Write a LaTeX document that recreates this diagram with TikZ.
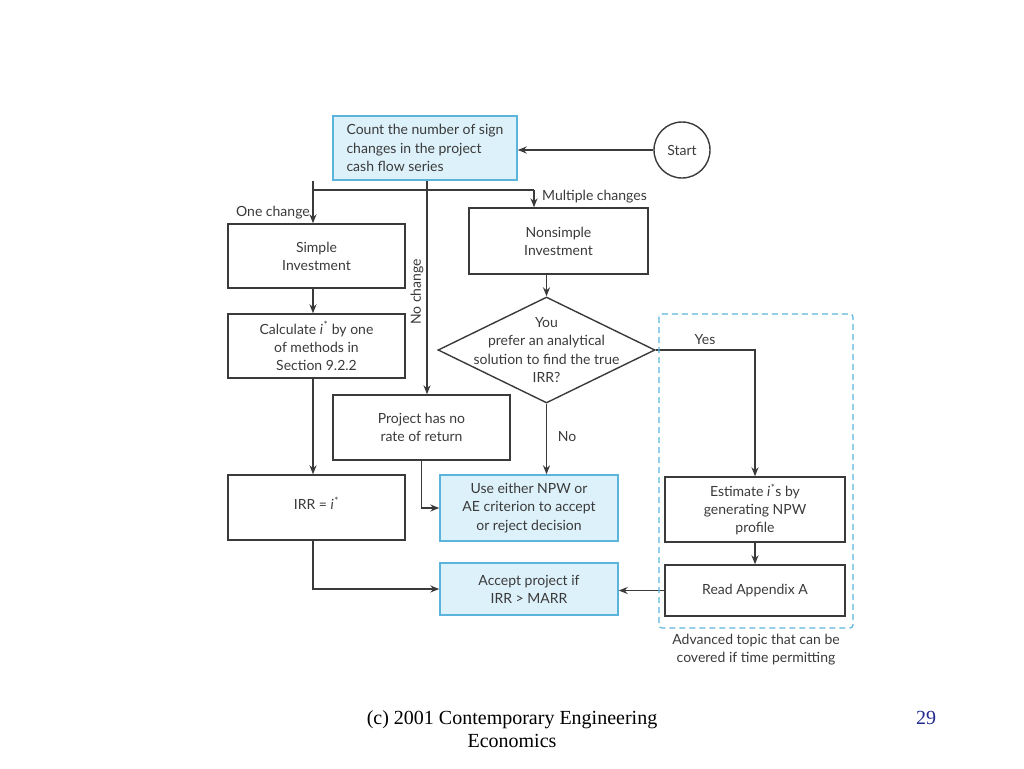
\documentclass[tikz,border=0pt]{standalone}
\usepackage{fontspec}
\setmainfont{Lato}
\newfontfamily\footfont{Liberation Serif}
\usetikzlibrary{arrows.meta,shapes.geometric}

\definecolor{boxblue}{HTML}{5AB4DC}
\definecolor{boxfill}{HTML}{DDF1FA}
\definecolor{linegray}{HTML}{3A3A3A}
\definecolor{pagenum}{HTML}{1F2A8C}

\newcommand{\istar}{\textit{i}\textsuperscript{\kern0.5pt*}}

\tikzset{
  flow/.style={draw=linegray, line width=1.4pt},
  arr/.style={flow, -{Stealth[length=9pt,width=7pt]}},
  plainbox/.style={draw=linegray, line width=1.4pt, align=center, inner sep=0pt,
    font=\fontsize{14}{18.2}\selectfont, text=linegray},
  bluebox/.style={plainbox, draw=boxblue, fill=boxfill},
  decision/.style={draw=linegray, line width=1.4pt, shape=diamond, inner sep=0pt,
    minimum width=217pt, minimum height=106pt},
  tag/.style={font=\fontsize{14}{18.2}\selectfont, inner sep=1pt, text=linegray}
}

\begin{document}
\begin{tikzpicture}[x=1pt,y=-1pt]
\useasboundingbox (0,0) rectangle (1024,768);

% Define the split points below the first box
\coordinate (bl) at (313,190);
\coordinate (br) at (534,190);
\coordinate (nc) at (427,190);

% Draw the boxes
\node[bluebox, align=left, minimum width=184pt, minimum height=64pt] (count) at (425,148)
  {Count the number of sign\\changes in the project\\cash flow series};
\node[circle, draw=linegray, line width=1.4pt, minimum size=56pt, inner sep=0pt,
  font=\fontsize{14}{18.2}\selectfont, text=linegray] (start) at (682,150) {Start};
\node[plainbox, minimum width=177pt, minimum height=64pt] (simple) at (316.5,256)
  {Simple\\Investment};
\node[plainbox, minimum width=177pt, minimum height=64pt] (calc) at (316.5,346)
  {Calculate \istar{} by one\\of methods in\\Section 9.2.2};
\node[plainbox, minimum width=177pt, minimum height=65pt] (irr) at (316.5,507.5)
  {IRR = \istar\rule[-8pt]{0pt}{8pt}};
\node[plainbox, minimum width=179pt, minimum height=66pt] (nonsimple) at (558.5,241)
  {Nonsimple\\Investment};
\node[decision] (q) at (546.5,350) {};
\node[tag, align=center] (qtext) at (q) {You\\prefer an analytical\\solution to find the true\\IRR?};
\node[plainbox, minimum width=177pt, minimum height=65pt] (project) at (421.5,427.5)
  {Project has no\\rate of return};
\node[bluebox, minimum width=178pt, minimum height=66pt] (use) at (529,508)
  {Use either NPW or\\AE criterion to accept\\or reject decision};
\node[bluebox, minimum width=178pt, minimum height=52pt] (accept) at (529,589)
  {Accept project if\\IRR > MARR};
\node[plainbox, minimum width=180pt, minimum height=65pt] (est) at (755,509.5)
  {Estimate \istar s by\\generating NPW\\profile};
\node[plainbox, minimum width=180pt, minimum height=51pt] (read) at (755,590.5)
  {Read Appendix A};

% Draw the connectors
\draw[arr] (start) -- (start -| count.east);
\draw[flow] (count.south -| bl) -- (bl) -- (br);
\draw[flow] (count.south -| nc) -- (nc);
\draw[arr] (bl) -- (simple.north -| bl);
\draw[arr] (br) -- (nonsimple.north -| br);
\draw[arr] (nc) -- (project.north -| nc);
\draw[arr] (simple.south -| bl) -- (calc.north -| bl);
\draw[arr] (calc.south -| bl) -- (irr.north -| bl);
\draw[arr] (irr.south -| bl) |- (accept.west);
\draw[arr] (nonsimple.south -| q) -- (q.north);
\draw[arr] (q.east) -| (est.north);
\draw[arr] (q.south) -- (use.north -| q);
\draw[arr] (project.south) |- (use.west);
\draw[arr] (est) -- (read);
\draw[arr] (read.west) -- (read.west -| accept.east);

% Labels on the connectors
\node[tag, anchor=east] (one) at (311,213) {One change};
\node[tag, anchor=west] (multi) at (541,197) {Multiple changes};
\node[tag, rotate=90] (none) at (417,292) {No change};
\node[tag] (yes) at (705,340) {Yes};
\node[tag] (no) at (567,437) {No};

% The optional part
\draw[boxblue, line width=1.2pt, dash pattern=on 6pt off 4pt, rounded corners=3pt]
  (659,314) rectangle (853,628);
\node[tag, align=center] (adv) at (756,650) {Advanced topic that can be\\covered if time permitting};

% Footer
\node[font=\footfont\fontsize{20}{23}\selectfont, align=center] (foot) at (512,729)
  {(c) 2001 Contemporary Engineering\\Economics};
\node[font=\footfont\fontsize{20}{23}\selectfont, text=pagenum] (page) at (926,718) {29};

\end{tikzpicture}
\end{document}
